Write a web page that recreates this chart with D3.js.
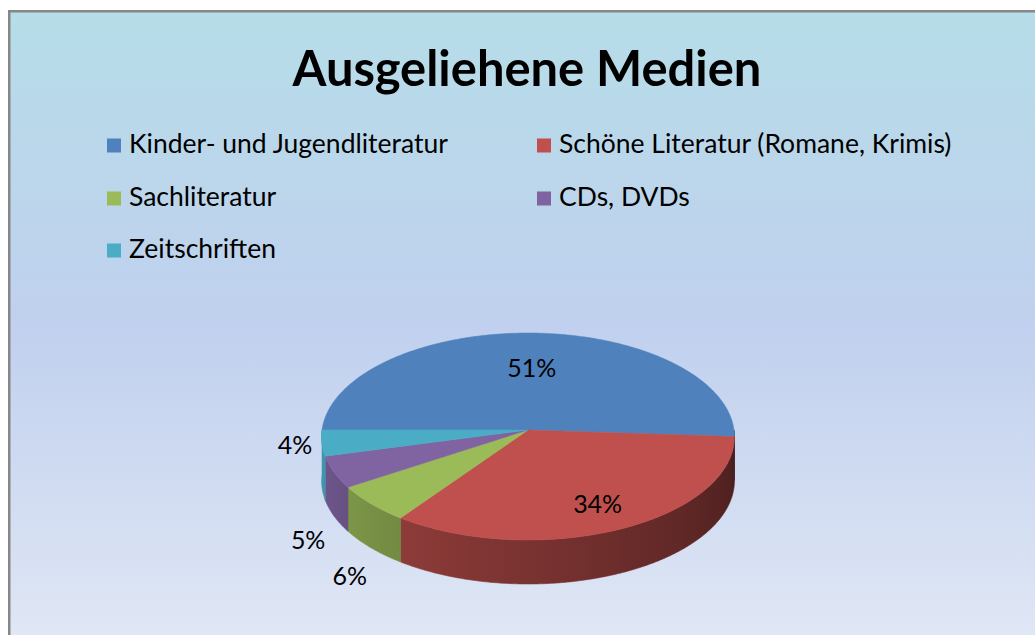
<!DOCTYPE html>
<html><head><meta charset="utf-8">
<script src="https://cdn.jsdelivr.net/npm/d3@7"></script>
<style>html,body{margin:0;padding:0;background:#fff;overflow:hidden}</style>
</head><body>
<svg id="c" width="1035" height="635"></svg>
<script>
// ---- data ----
const chartTitle = "Ausgeliehene Medien";
const categories = ["Kinder- und Jugendliteratur", "Schöne Literatur (Romane, Krimis)", "Sachliteratur", "CDs, DVDs", "Zeitschriften"];
const values = [51, 34, 6, 5, 4];
const palette = ["#4f81bd", "#c0504d", "#9bbb59", "#8064a2", "#4bacc6"];

// ---- layout ----
const W = 1035, H = 635;
const FONT = "Lato, 'Open Sans', sans-serif";
const svg = d3.select("#c");
const defs = svg.append("defs");

const bg = defs.append("linearGradient").attr("id", "bg")
  .attr("gradientUnits", "userSpaceOnUse").attr("x1", 0).attr("y1", 11).attr("x2", 0).attr("y2", 640);
bg.append("stop").attr("offset", 0).attr("stop-color", "#b6dde8");
bg.append("stop").attr("offset", 0.5).attr("stop-color", "#c0d0ee");
bg.append("stop").attr("offset", 1).attr("stop-color", "#e0e7f5");

svg.append("rect").attr("x", 9.25).attr("y", 11.25).attr("width", W + 20).attr("height", H + 20)
  .attr("fill", "url(#bg)").attr("stroke", "#878787").attr("stroke-width", 2.5);

// Title
const titleEl = svg.append("text").attr("x", 527).attr("y", 86).attr("text-anchor", "middle")
  .attr("font-family", FONT).attr("font-weight", "bold").attr("font-size", 54).attr("fill", "#000")
  .text(chartTitle);
{ const w = titleEl.node().getComputedTextLength(); titleEl.attr("font-size", 54 * 469 / w); }

// Legend
const legCols = [107, 537], legRows = [153, 206, 258];
const leg = svg.append("g");
const items = leg.selectAll("g").data(categories).join("g")
  .attr("transform", (d, i) => `translate(${legCols[i % 2]},${legRows[Math.floor(i / 2)]})`);
items.append("rect").attr("x", 0).attr("y", -14.5).attr("width", 14).attr("height", 14)
  .attr("fill", (d, i) => palette[i]);
const legTexts = items.append("text").attr("x", 22).attr("y", 0)
  .attr("font-family", FONT).attr("font-size", 24).attr("fill", "#000").text(d => d);
{ const w = legTexts.nodes()[0].getComputedTextLength(); legTexts.attr("font-size", 24 * 319 / w); }

// ---- 3D pie ----
const cx = 528, cy = 430, rx = 206, ry = 103.5, bow = 6.5, persp = 0.065, depth = 44;
function proj(a, rho = 1) {
  const u = Math.sin(a) * rho, v = -Math.cos(a) * rho;
  return [cx + rx * u * (1 + persp * v), cy + ry * v + bow * v * v];
}
function shade(a) {
  let deg = (a * 180 / Math.PI) % 360; if (deg < 0) deg += 360;
  return Math.max(0.35, Math.min(0.9, 0.38 + (deg - 95) / 155 * 0.46));
}
function tint(c, f) { const r = d3.rgb(c); return d3.rgb(r.r * f, r.g * f, r.b * f).formatHex(); }

const total = d3.sum(values);
const pie = d3.pie().sort(null).value(d => d).startAngle(-Math.PI / 2).endAngle(3 * Math.PI / 2);
const arcs = pie(values);
const line = d3.line();
const step = Math.PI / 360;
function samples(a0, a1) {
  const n = Math.max(2, Math.ceil(Math.abs(a1 - a0) / step));
  return d3.range(n + 1).map(k => a0 + (a1 - a0) * k / n);
}

const gSide = svg.append("g"), gTop = svg.append("g"), gLab = svg.append("g");

arcs.forEach((d, i) => {
  // visible front wall: angles in [pi/2, 3pi/2]
  const s = Math.max(d.startAngle, Math.PI / 2), e = Math.min(d.endAngle, 3 * Math.PI / 2);
  if (e > s) {
    const gid = "side" + i;
    const gr = defs.append("linearGradient").attr("id", gid).attr("gradientUnits", "userSpaceOnUse")
      .attr("x1", cx - rx).attr("y1", 0).attr("x2", cx + rx).attr("y2", 0);
    d3.range(270, 89, -5).forEach(deg => {
      const a = deg * Math.PI / 180;
      const x = proj(a)[0];
      gr.append("stop").attr("offset", Math.max(0, Math.min(1, (x - (cx - rx)) / (2 * rx))))
        .attr("stop-color", tint(palette[i], shade(a)));
    });
    const topPts = samples(s, e).map(a => proj(a));
    const botPts = samples(e, s).map(a => { const p = proj(a); return [p[0], p[1] + depth]; });
    gSide.append("path").attr("d", line(topPts.concat(botPts)) + "Z")
      .attr("fill", `url(#${gid})`).attr("stroke", `url(#${gid})`).attr("stroke-width", 0.6);
  }
  const pts = [[cx, cy]].concat(samples(d.startAngle, d.endAngle).map(a => proj(a)));
  gTop.append("path").attr("d", line(pts) + "Z")
    .attr("fill", palette[i]).attr("stroke", palette[i]).attr("stroke-width", 0.5);
});

// Labels
const fmt = d3.format(".0%");
const labs = arcs.map((d, i) => {
  const share = d.value / total;
  const mid = (d.startAngle + d.endAngle) / 2;
  const v0 = -Math.cos(mid);
  let p;
  if (share >= 0.1) {
    p = proj(mid, share > 0.5 ? 0.62 : 0.76);
  } else {
    p = proj(mid, 1.13);
    if (v0 > 0.3) p = [p[0], p[1] + depth + 18];
  }
  return { p, text: fmt(share) };
});
const labEls = gLab.selectAll("text").data(labs).join("text")
  .attr("x", d => d.p[0]).attr("y", d => d.p[1]).attr("dy", "0.36em")
  .attr("text-anchor", "middle").attr("font-family", FONT).attr("font-size", 28).attr("fill", "#000")
  .text(d => d.text);
{ const w = labEls.nodes()[0].getComputedTextLength(); labEls.attr("font-size", 28 * 49 / w); }
</script>
</body></html>
